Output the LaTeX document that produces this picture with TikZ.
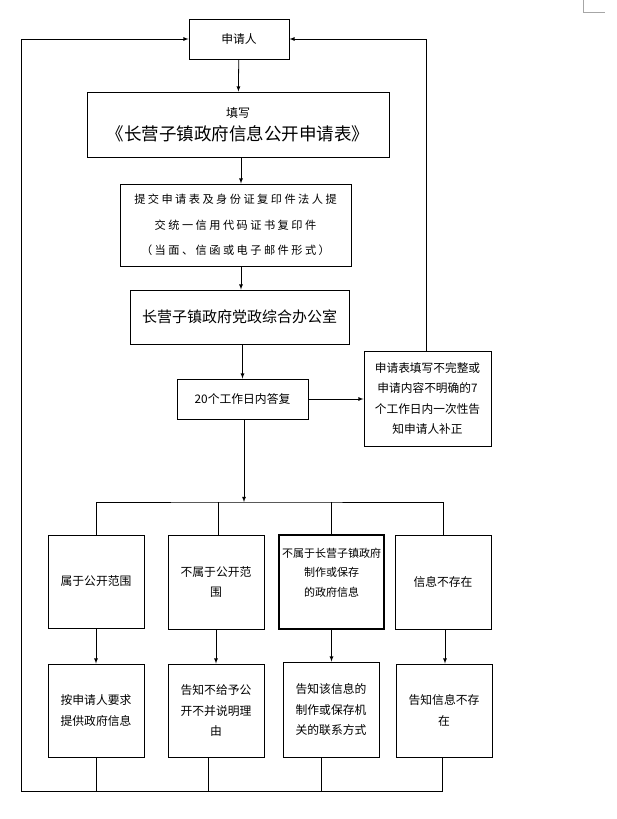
\documentclass[tikz,border=0pt]{standalone}
\usepackage{fontspec}
\setmainfont{Noto Sans CJK SC}
\newfontfamily\spacedfont[LetterSpace=22]{Noto Sans CJK SC}
\usepackage{tikz}
\usetikzlibrary{arrows}

\tikzset{
  box/.style={draw, line width=0.9pt, inner sep=0pt, align=center,
    minimum width=96pt, minimum height=93pt, font=\fontsize{11.8}{20.5}\selectfont},
  link/.style={line width=0.8pt},
  arrowlink/.style={link, ->, >=latex}
}

\begin{document}
\begin{tikzpicture}[x=1pt, y=-1pt]
    \useasboundingbox (0,0) rectangle (616,819);
    % page corner mark
    \draw [gray!70, line width=0.6pt] (583,0) -- (583,12) -- (605,12);
    % main column
    \node [box, minimum width=100pt, minimum height=40pt] (applicant) at (239,39) {申请人};
    \node [box, minimum width=302pt, minimum height=65pt] (form) at (238,124.5)
        {{\fontsize{12}{14}\selectfont 填写}\\[3pt]{\fontsize{17.5}{20}\selectfont 《长营子镇政府信息公开申请表》}};
    \node [box, minimum width=231pt, minimum height=82pt, font=\spacedfont\fontsize{11.2}{25.5}\selectfont] (submit) at (235.5,225)
        {提交申请表及身份证复印件法人提\\交统一信用代码证书复印件\\（当面、信函或电子邮件形式）};
    \node [box, minimum width=219pt, minimum height=54pt, font=\fontsize{15}{18}\selectfont] (office) at (239.5,317) {长营子镇政府党政综合办公室};
    \node [box, minimum width=131pt, minimum height=40pt] (reply) at (242.5,399) {20个工作日内答复};
    \node [box, minimum width=127pt, minimum height=95pt, font=\fontsize{11.7}{20.3}\selectfont] (correct) at (427.5,398.5)
        {申请表填写不完整或\\申请内容不明确的7\\个工作日内一次性告\\知申请人补正};
    % first row
    \node [box] (open) at (96,581.5) {属于公开范围};
    \node [box, minimum height=94pt] (notopen) at (216,582) {不属于公开范\\围};
    \node [box, minimum width=105pt, minimum height=94pt, line width=1.5pt, font=\fontsize{11}{19.5}\selectfont] (other) at (331.5,582)
        {不属于长营子镇政府\\制作或保存\\的政府信息\\~};
    \node [box, minimum height=94pt] (none) at (443,582) {信息不存在};
    % second row
    \node [box] (provide) at (96,710.5) {按申请人要求\\提供政府信息};
    \node [box] (refuse) at (216,710.5) {告知不给予公\\开不并说明理\\由};
    \node [box, minimum height=95pt] (contact) at (331,709.5) {告知该信息的\\制作或保存机\\关的联系方式};
    \node [box] (absent) at (444,710.5) {告知信息不存\\在};
    \coordinate (split) at (244,502);
    \coordinate (back) at (21,791);
    % connectors
    \draw [arrowlink] (applicant) -- (form);
    \draw [arrowlink] ([xshift=3pt]form.south) -- ([xshift=3pt]form.south |- submit.north);
    \draw [arrowlink] ([xshift=5.5pt]submit.south) -- ([xshift=5.5pt]submit.south |- office.north);
    \draw [arrowlink] ([xshift=3pt]office.south) -- ([xshift=3pt]office.south |- reply.north);
    \draw [arrowlink] (reply.east) -- (reply.east -| correct.west);
    \draw [arrowlink] ([xshift=-1.5pt]correct.north) |- (applicant.east);
    \draw [arrowlink] ([xshift=1.5pt]reply.south) -- (split);
    \draw [link] (open.north) |- (split) -| (none.north);
    \draw [link] ([xshift=2pt]notopen.north) -- ([xshift=2pt]notopen.north |- split);
    \draw [link] (other.north) -- (other.north |- split);
    \draw [arrowlink] (open) -- (provide);
    \draw [arrowlink] (notopen) -- (refuse);
    \draw [arrowlink] (other.south) -- (other.south |- contact.north);
    \draw [arrowlink] ([xshift=2pt]none.south) -- ([xshift=2pt]none.south |- absent.north);
    \draw [arrowlink] ([xshift=-2pt]absent.south) |- (back) |- (applicant.west);
    \draw [link] (provide.south) -- (provide.south |- back);
    \draw [link] ([xshift=-8pt]refuse.south) -- ([xshift=-8pt]refuse.south |- back);
    \draw [link] ([xshift=-10pt]contact.south) -- ([xshift=-10pt]contact.south |- back);
\end{tikzpicture}
\end{document}
